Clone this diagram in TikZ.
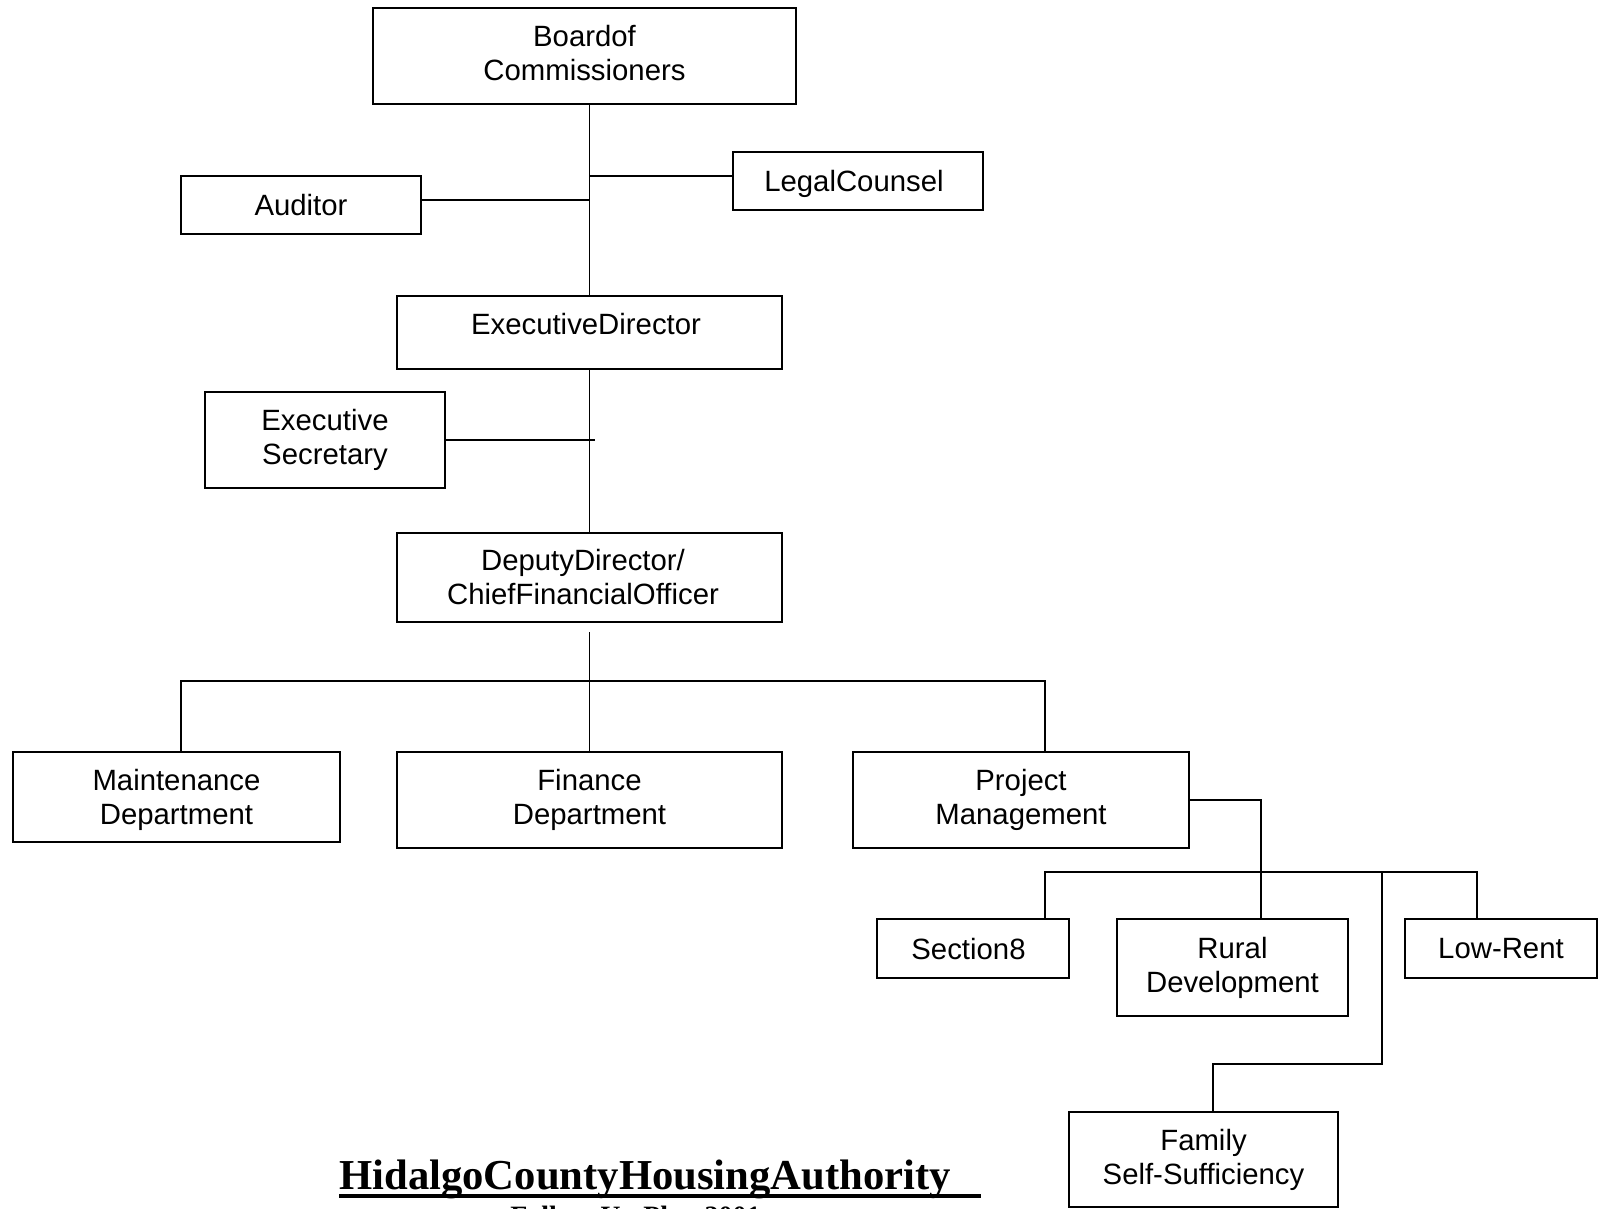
\documentclass[tikz,border=0pt]{standalone}
\usepackage{fontspec}
\setmainfont{Liberation Sans}
\newfontfamily\titlefont{Liberation Serif}
\begin{document}
\begin{tikzpicture}[x=0.75pt,y=-0.75pt,
  box/.style={draw,line width=1.4pt,inner sep=0pt,align=center,font=\fontsize{22}{25.5}\selectfont},
  txt/.style={inner sep=0pt,align=center,font=\fontsize{22}{25.5}\selectfont},
  conn/.style={line width=1.2pt}]
\useasboundingbox (0,0) rectangle (1600,1208);

\node[box,minimum width=317.25pt,minimum height=72pt] (board) at (584.5,56) {};
\node[txt] (boardtext) at (584.5,53) {Boardof\\Commissioners};
\node[box,minimum width=180pt,minimum height=43.5pt] (auditor) at (301,205) {Auditor};
\node[box,minimum width=187.5pt,minimum height=43.5pt] (legal) at (858,181) {};
\node[txt] (legaltext) at (854,184) {LegalCounsel};
\node[box,minimum width=288.75pt,minimum height=54.75pt] (ed) at (589.5,332.5) {};
\node[txt] (edtext) at (586,324) {ExecutiveDirector};
\node[box,minimum width=180pt,minimum height=72pt] (es) at (325,440) {Executive\\Secretary};
\node[box,minimum width=288.75pt,minimum height=66.75pt] (deputy) at (589.5,577.5) {};
\node[txt] (deputytext) at (583,577.5) {DeputyDirector/\\ChiefFinancialOfficer};
\node[box,minimum width=245.25pt,minimum height=67.5pt] (maint) at (176.5,797) {};
\node[txt] (mainttext) at (176.5,800) {Maintenance\\Department};
\node[box,minimum width=288.75pt,minimum height=72pt] (finance) at (589.5,800) {Finance\\Department};
\node[box,minimum width=252pt,minimum height=72pt] (pm) at (1021,800) {Project\\Management};
\node[box,minimum width=144pt,minimum height=44.25pt] (section8) at (973,948.5) {};
\node[txt] (section8text) at (968.5,948.5) {Section8};
\node[box,minimum width=173.25pt,minimum height=72.75pt] (rural) at (1232.5,967.5) {Rural\\Development};
\node[box,minimum width=144pt,minimum height=44.25pt] (lowrent) at (1501,948.5) {Low-Rent};
\node[box,minimum width=201.75pt,minimum height=71.25pt] (family) at (1203.5,1159.5) {Family\\Self-Sufficiency};

% junction points
\coordinate (ja) at (589.5,200);
\coordinate (jl) at (589.5,176);
\coordinate (jes) at (595,440);
\coordinate (dtop) at (589.5,632);
\coordinate (busL) at (181,681);
\coordinate (busR) at (1045,681);
\coordinate (pmr) at (1261,800);
\coordinate (b2L) at (1045,872);
\coordinate (b2R) at (1477,872);
\coordinate (fj) at (1382,872);
\coordinate (fk) at (1382,1064);
\coordinate (fl) at (1213,1064);

\draw[conn] (ed.north |- board.south) -- (ed.north);
\draw[conn] (auditor.east |- ja) -- (ja);
\draw[conn] (jl) -- (legal.west |- jl);
\draw[conn] (ed.south) -- (deputy.north);
\draw[conn] (es.east) -- (jes);
\draw[conn] (dtop) -- (finance.north);
\draw[conn] (busL |- maint.north) -- (busL) -- (busR) -- (busR |- pm.north);
\draw[conn] (pm.east) -- (pmr) -- (pmr |- rural.north);
\draw[conn] (b2L |- section8.north) -- (b2L) -- (b2R) -- (b2R |- lowrent.north);
\draw[conn] (fj) -- (fk) -- (fl) -- (fl |- family.north);

% title
\node[anchor=base west,inner sep=0pt,font=\titlefont\bfseries\fontsize{32}{36}\selectfont] (title) at (339,1189) {HidalgoCountyHousingAuthority};
\coordinate (ulend) at (981,1196);
\draw[line width=3pt] (title.west |- ulend) -- (ulend);
\node[anchor=base west,inner sep=0pt,font=\titlefont\bfseries\fontsize{21}{24}\selectfont] (sub) at (510,1225) {Follow-Up Plan 2001};
\end{tikzpicture}
\end{document}
